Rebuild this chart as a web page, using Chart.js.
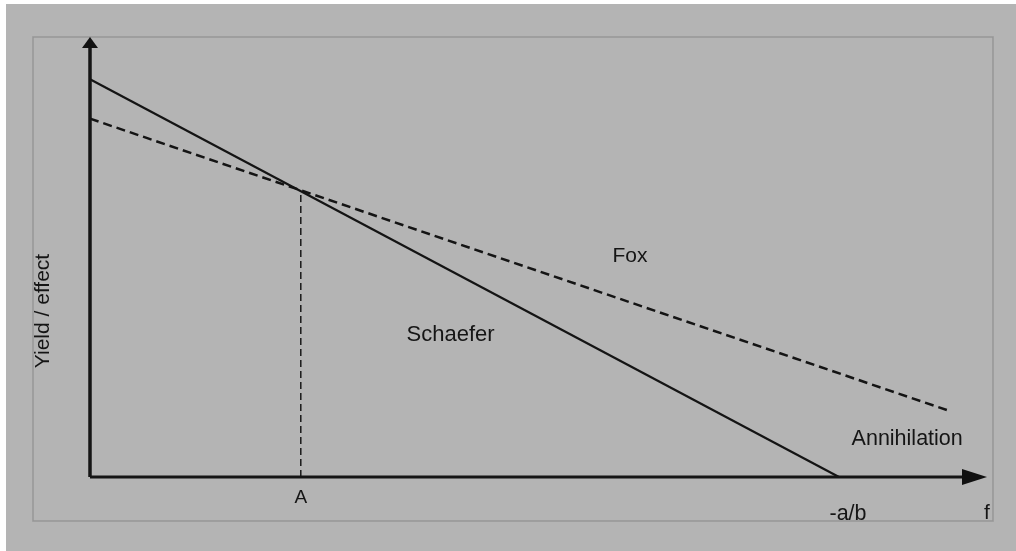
<!DOCTYPE html>
<html>
<head>
<meta charset="utf-8">
<script src="https://cdn.jsdelivr.net/npm/chart.js@4.4.1/dist/chart.umd.min.js"></script>
<style>
  html, body { margin: 0; padding: 0; background: #b4b4b4; }
  #wrap { width: 1016px; height: 551px; }
</style>
</head>
<body>
<div id="wrap"><canvas id="c" width="1016" height="551"></canvas></div>
<script>
// Effort (f) and yield-per-effort values for the two surplus-production models
const schaeferEffort = [0, 8.35];
const schaeferYield  = [9.1, 0];
const foxEffort      = [0, 9.6];
const foxYield       = [8.2, 1.5];
// Effort at which both models give the same yield per effort
const effortA        = 2.35;
const yieldA         = 6.54;
// Axis extents
const effortMax      = 10;
const yieldMax       = 10;

const pts = (xs, ys) => xs.map((x, i) => ({ x: x, y: ys[i] }));

// Background, white edge strips and the outer frame
const framePlugin = {
  id: 'frame',
  beforeDraw(chart) {
    const ctx = chart.ctx;
    ctx.save();
    ctx.fillStyle = '#b4b4b4';
    ctx.fillRect(0, 0, chart.width, chart.height);
    ctx.fillStyle = '#ffffff';
    ctx.fillRect(0, 0, chart.width, 4);
    ctx.fillRect(0, 0, 6, chart.height);
    ctx.strokeStyle = '#969696';
    ctx.lineWidth = 1.5;
    ctx.strokeRect(33, 37, 960, 484);
    ctx.restore();
  }
};

// Arrow heads at the ends of both axes and the text labels
const annotatePlugin = {
  id: 'annotate',
  afterDatasetsDraw(chart) {
    const ctx = chart.ctx;
    const xs = chart.scales.x, ys = chart.scales.y;
    const x0 = xs.getPixelForValue(0), y0 = ys.getPixelForValue(0);
    const xEnd = xs.getPixelForValue(effortMax);
    const yEnd = ys.getPixelForValue(yieldMax);
    ctx.save();
    ctx.fillStyle = '#111';
    // x arrow
    ctx.beginPath();
    ctx.moveTo(xEnd, y0);
    ctx.lineTo(xEnd - 25, y0 - 8);
    ctx.lineTo(xEnd - 25, y0 + 8);
    ctx.closePath();
    ctx.fill();
    // y arrow
    ctx.beginPath();
    ctx.moveTo(x0, yEnd - 3);
    ctx.lineTo(x0 - 8, yEnd + 8);
    ctx.lineTo(x0 + 8, yEnd + 8);
    ctx.closePath();
    ctx.fill();

    ctx.fillStyle = '#151515';
    ctx.textAlign = 'center';
    ctx.textBaseline = 'middle';
    const put = (text, px, py, size) => {
      ctx.font = size + 'px "Liberation Sans", Arial, sans-serif';
      ctx.fillText(text, px, py);
    };
    put('A', xs.getPixelForValue(effortA), y0 + 21, 19);
    put('-a/b', xs.getPixelForValue(schaeferEffort[1]) + 9, y0 + 37, 21.5);
    put('f', xEnd, y0 + 36, 21);
    put('Fox', xs.getPixelForValue(6.02), ys.getPixelForValue(5.06), 21);
    put('Schaefer', xs.getPixelForValue(4.02), ys.getPixelForValue(3.25), 22);
    put('Annihilation', xs.getPixelForValue(9.11), ys.getPixelForValue(0.87), 21.5);
    // rotated y-axis title
    ctx.save();
    ctx.translate(43, 311);
    ctx.rotate(-Math.PI / 2);
    put('Yield / effect', 0, 0, 21);
    ctx.restore();
    ctx.restore();
  }
};

new Chart(document.getElementById('c'), {
  type: 'scatter',
  data: {
    datasets: [
      {
        label: 'x axis',
        data: pts([0, effortMax - 0.2], [0, 0]),
        showLine: true, borderColor: '#151515', borderWidth: 3,
        pointRadius: 0, clip: false
      },
      {
        label: 'y axis',
        data: pts([0, 0], [0, yieldMax - 0.1]),
        showLine: true, borderColor: '#151515', borderWidth: 3.5,
        pointRadius: 0, clip: false
      },
      {
        label: 'Schaefer',
        data: pts(schaeferEffort, schaeferYield),
        showLine: true, borderColor: '#141414', borderWidth: 2.2,
        pointRadius: 0, clip: false
      },
      {
        label: 'Fox',
        data: pts(foxEffort, foxYield),
        showLine: true, borderColor: '#141414', borderWidth: 2.5,
        borderDash: [9, 5], pointRadius: 0, clip: false
      },
      {
        label: 'A',
        data: pts([effortA, effortA], [0, yieldA]),
        showLine: true, borderColor: '#1a1a1a', borderWidth: 1.5,
        borderDash: [7, 4], pointRadius: 0, clip: false
      }
    ]
  },
  options: {
    responsive: false,
    animation: false,
    layout: { padding: { left: 90, right: 29, top: 40, bottom: 74 } },
    plugins: { legend: { display: false }, tooltip: { enabled: false } },
    scales: {
      x: { type: 'linear', min: 0, max: effortMax, display: false },
      y: { type: 'linear', min: 0, max: yieldMax, display: false }
    }
  },
  plugins: [framePlugin, annotatePlugin]
});
</script>
</body>
</html>
